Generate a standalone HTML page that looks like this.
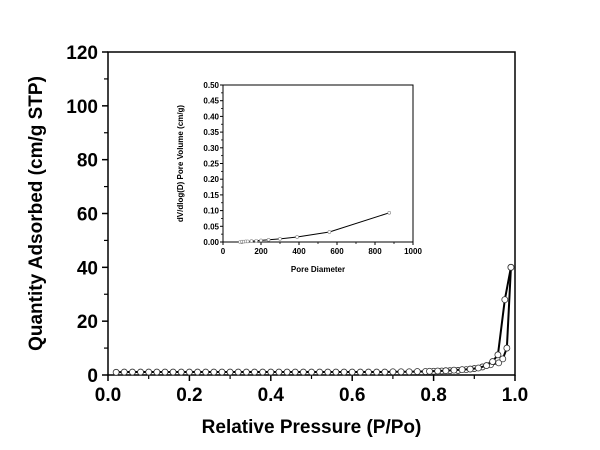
<!DOCTYPE html>
<html><head><meta charset="utf-8"><style>
body{margin:0;background:#fff}
svg{display:block;font-family:"Liberation Sans",Arial,sans-serif;font-weight:bold}
</style></head><body>
<svg id="c" width="600" height="450"></svg>
<script>
const adsP=[0.02,0.04,0.06,0.08,0.1,0.12,0.14,0.16,0.18,0.2,0.22,0.24,0.26,0.28,0.3,0.32,0.34,0.36,0.38,0.4,0.42,0.44,0.46,0.48,0.5,0.52,0.54,0.56,0.58,0.6,0.62,0.64,0.66,0.68,0.7,0.72,0.74,0.76,0.78,0.8,0.82,0.84,0.86,0.88,0.9,0.92,0.94,0.96,0.97,0.98,0.99];
const adsQ=[1,1.1,1.1,1.1,1.1,1.1,1.1,1.1,1.1,1.1,1.1,1.1,1.1,1.1,1.1,1.1,1.1,1.1,1.1,1.1,1.1,1.1,1.1,1.1,1.1,1.1,1.1,1.1,1.1,1.1,1.1,1.1,1.1,1.1,1.2,1.2,1.2,1.3,1.3,1.4,1.5,1.6,1.7,2,2.4,3,3.8,4.5,6,10,40];
const desP=[0.99,0.975,0.958,0.945,0.93,0.91,0.89,0.87,0.85,0.83,0.81,0.79];
const desQ=[40,28,7.5,5,3.5,2.6,2.2,2,1.8,1.6,1.5,1.4];
const xTicks=[0,0.2,0.4,0.6,0.8,1.0];
const xTickLabels=["0.0","0.2","0.4","0.6","0.8","1.0"];
const yTicks=[0,20,40,60,80,100,120];
const poreD=[90,100,110,120,130,150,175,200,240,300,390,560,875];
const poreV=[0,0.001,0.001,0.002,0.002,0.003,0.004,0.005,0.007,0.01,0.016,0.032,0.093];
const insXTicks=[0,200,400,600,800,1000];
const insYTicks=[0,0.05,0.1,0.15,0.2,0.25,0.3,0.35,0.4,0.45,0.5];

const svg=document.getElementById('c');
const NS='http://www.w3.org/2000/svg';
function mk(t,a,p){const e=document.createElementNS(NS,t);for(const k in a)e.setAttribute(k,a[k]);(p||svg).appendChild(e);return e;}
const L=108,R=515,T=52,B=375;
const X=v=>L+v*(R-L), Y=v=>B-v/120*(B-T);
let e=mk('rect',{x:L,y:T,width:R-L,height:B-T,fill:'none',stroke:'#000','stroke-width':1.5});

xTicks.forEach((v,i)=>{
  mk('line',{x1:X(v),x2:X(v),y1:B,y2:B+6,stroke:'#000','stroke-width':1.5});
  if(i<5)mk('line',{x1:X(v+0.1),x2:X(v+0.1),y1:B,y2:B+4,stroke:'#000','stroke-width':1.2});
  const t=mk('text',{x:X(v),y:B+26,'font-size':19,'text-anchor':'middle'});t.textContent=xTickLabels[i];
  
});
yTicks.forEach((v,i)=>{
  mk('line',{x1:L-6,x2:L,y1:Y(v),y2:Y(v),stroke:'#000','stroke-width':1.5});
  if(i<6)mk('line',{x1:L-4,x2:L,y1:Y(v+10),y2:Y(v+10),stroke:'#000','stroke-width':1.2});
  const t=mk('text',{x:L-10,y:Y(v)+7,'font-size':19,'text-anchor':'end'});t.textContent=v;
  
});
e=mk('text',{x:(L+R)/2,y:433,'font-size':19,'text-anchor':'middle'});e.textContent='Relative Pressure (P/Po)';

e=mk('text',{x:0,y:0,'font-size':19,'text-anchor':'middle',transform:`translate(42,${(T+B)/2}) rotate(-90)`});e.textContent='Quantity Adsorbed (cm/g STP)';

function series(P,Q,name){
  const l=mk('polyline',{points:P.map((p,i)=>X(p)+','+Y(Q[i])).join(' '),fill:'none',stroke:'#000','stroke-width':2});
  
  P.forEach((p,i)=>{const c=mk('circle',{cx:X(p),cy:Y(Q[i]),r:3,fill:'#fff',stroke:'#333','stroke-width':0.8});
    });
}
series(adsP,adsQ,'adsorption');
series(desP,desQ,'desorption');
const iL=223,iR=413,iT=85,iB=242;
const IX=v=>iL+v/1000*(iR-iL), IY=v=>iB-v/0.5*(iB-iT);
e=mk('rect',{x:iL,y:iT,width:iR-iL,height:iB-iT,fill:'#fff',stroke:'#000','stroke-width':1});

insXTicks.forEach((v,i)=>{
  mk('line',{x1:IX(v),x2:IX(v),y1:iB,y2:iB+3,stroke:'#000','stroke-width':1});
  if(i<5)mk('line',{x1:IX(v+100),x2:IX(v+100),y1:iB,y2:iB+2,stroke:'#000','stroke-width':0.8});
  const t=mk('text',{x:IX(v),y:iB+12,'font-size':8,'text-anchor':'middle'});t.textContent=v;
  
});
insYTicks.forEach((v,i)=>{
  mk('line',{x1:iL-3,x2:iL,y1:IY(v),y2:IY(v),stroke:'#000','stroke-width':1});
  if(i<10)mk('line',{x1:iL-2,x2:iL,y1:IY(v+0.025),y2:IY(v+0.025),stroke:'#000','stroke-width':0.8});
  const t=mk('text',{x:iL-4,y:IY(v)+3,'font-size':8,'text-anchor':'end'});t.textContent=v.toFixed(2);
  
});
e=mk('text',{x:(iL+iR)/2,y:iB+30,'font-size':8,'text-anchor':'middle'});e.textContent='Pore Diameter';

e=mk('text',{x:0,y:0,'font-size':8,'text-anchor':'middle',transform:`translate(183,${(iT+iB)/2}) rotate(-90)`});e.textContent='dV/dlog(D) Pore Volume (cm/g)';

e=mk('polyline',{points:poreD.map((d,i)=>IX(d)+','+IY(poreV[i])).join(' '),fill:'none',stroke:'#000','stroke-width':1});

poreD.forEach((d,i)=>{const c=mk('circle',{cx:IX(d),cy:IY(poreV[i]),r:1.5,fill:'#fff',stroke:'#888','stroke-width':0.6});
  });
</script>
</body></html>
